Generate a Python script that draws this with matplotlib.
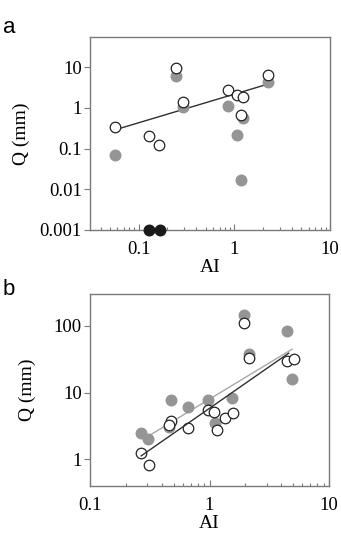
import matplotlib
matplotlib.use("Agg")
import matplotlib.pyplot as plt
from matplotlib.ticker import LogLocator, FixedLocator, FixedFormatter, NullFormatter, NullLocator

# ---- Panel a data ----
a_open_x = [0.057, 0.127, 0.163, 0.243, 0.294, 0.853, 1.07, 1.22, 1.18, 2.26]
a_open_y = [0.335, 0.20, 0.123, 9.6, 1.43, 2.8, 2.09, 1.83, 0.67, 6.4]
a_gray_x = [0.057, 0.243, 0.294, 0.853, 1.07, 1.22, 1.18, 2.26]
a_gray_y = [0.070, 6.0, 1.04, 1.1, 0.217, 0.57, 0.0173, 4.3]
a_black_x = [0.128, 0.166]
a_black_y = [0.001, 0.001]
a_fit_x = [0.057, 2.3]
a_fit_y = [0.29, 3.9]

# ---- Panel b data ----
b_gray_x = [0.265, 0.308, 0.478, 0.46, 0.66, 0.98, 1.11, 1.55, 1.94, 2.16, 4.45, 4.9]
b_gray_y = [2.5, 2.0, 7.8, 3.1, 6.0, 7.8, 3.5, 8.2, 146, 38, 85, 15.8]
b_open_x = [0.268, 0.309, 0.478, 0.46, 0.656, 0.98, 1.09, 1.16, 1.35, 1.57, 1.94, 2.16, 4.45, 5.06]
b_open_y = [1.23, 0.82, 3.8, 3.3, 3.0, 5.5, 5.2, 2.8, 4.2, 5.0, 112, 32.7, 30, 31.6]
b_fit_gray_x = [0.311, 4.9]
b_fit_gray_y = [2.26, 44.7]
b_fit_black_x = [0.268, 4.6]
b_fit_black_y = [1.13, 39]

yticks_a = [0.001, 0.01, 0.1, 1, 10]
yticklabels_a = ["0.001", "0.01", "0.1", "1", "10"]
xticks = [0.1, 1, 10]
xticklabels = ["0.1", "1", "10"]
yticks_b = [1, 10, 100]
yticklabels_b = ["1", "10", "100"]

SERIF = "Liberation Serif"
FS = 13.5
FSL = 14
GRAY = "#959595"
FRAME = "#7a7a7a"
MS = 7.6

fig = plt.figure(figsize=(3.41, 5.37), dpi=100)
ax_a = fig.add_axes([90/341, 1-230/537, 240/341, 193/537])
ax_b = fig.add_axes([90/341, 1-486/537, 239/341, 192/537])


def style(ax, yt, ytl):
    ax.set_xscale("log")
    ax.set_yscale("log")
    for s in ax.spines.values():
        s.set_color(FRAME)
        s.set_linewidth(1.0)
    ax.xaxis.set_major_locator(FixedLocator(xticks))
    ax.xaxis.set_major_formatter(FixedFormatter(xticklabels))
    ax.xaxis.set_minor_locator(LogLocator(base=10, subs=range(2, 10)))
    ax.xaxis.set_minor_formatter(NullFormatter())
    ax.yaxis.set_major_locator(FixedLocator(yt))
    ax.yaxis.set_major_formatter(FixedFormatter(ytl))
    ax.yaxis.set_minor_locator(NullLocator())
    ax.tick_params(axis="x", which="major", direction="in", length=4, width=0.8,
                   color=FRAME, labelsize=FS, pad=8)
    ax.tick_params(axis="x", which="minor", direction="in", length=2.5, width=0.8, color=FRAME)
    ax.tick_params(axis="y", which="major", direction="out", length=4, width=0.8,
                   color=FRAME, labelsize=FS, pad=2)
    for lab in ax.get_xticklabels() + ax.get_yticklabels():
        lab.set_fontfamily(SERIF)
    ax.set_xlabel("AI", fontfamily=SERIF, fontsize=FSL, labelpad=0)
    ax.set_ylabel("Q (mm)", fontfamily=SERIF, fontsize=FSL)


# Panel a
ax_a.plot(a_fit_x, a_fit_y, color="#303030", lw=1.0, zorder=2)
ax_a.plot(a_gray_x, a_gray_y, "o", color=GRAY, mec=GRAY, ms=MS, zorder=3)
ax_a.plot(a_open_x, a_open_y, "o", mfc="white", mec="#222222", mew=0.9, ms=MS, zorder=4)
ax_a.plot(a_black_x, a_black_y, "o", color="#1a1a1a", ms=MS, zorder=5, clip_on=False)
ax_a.set_xlim(0.031, 10)
ax_a.set_ylim(0.001, 55)
style(ax_a, yticks_a, yticklabels_a)
ax_a.yaxis.set_label_coords(-0.25, 0.5)
ax_a.xaxis.set_label_coords(0.5, -0.15)

# Panel b
ax_b.plot(b_gray_x, b_gray_y, "o", color=GRAY, mec=GRAY, ms=MS, zorder=3)
ax_b.plot(b_fit_gray_x, b_fit_gray_y, color="#a8a8a8", lw=1.0, zorder=2)
ax_b.plot(b_fit_black_x, b_fit_black_y, color="#303030", lw=1.0, zorder=5)
ax_b.plot(b_open_x, b_open_y, "o", mfc="white", mec="#222222", mew=0.9, ms=MS, zorder=4)
ax_b.set_xlim(0.1, 10)
ax_b.set_ylim(0.4, 300)
style(ax_b, yticks_b, yticklabels_b)
ax_b.yaxis.set_label_coords(-0.226, 0.5)
ax_b.xaxis.set_label_coords(0.5, -0.15)

fig.text(3/341, 1-33/537, "a", fontfamily="Liberation Sans", fontsize=16, va="baseline", ha="left")
fig.text(3/341, 1-295/537, "b", fontfamily="Liberation Sans", fontsize=16, va="baseline", ha="left")

fig.savefig("out.png", dpi=100)
